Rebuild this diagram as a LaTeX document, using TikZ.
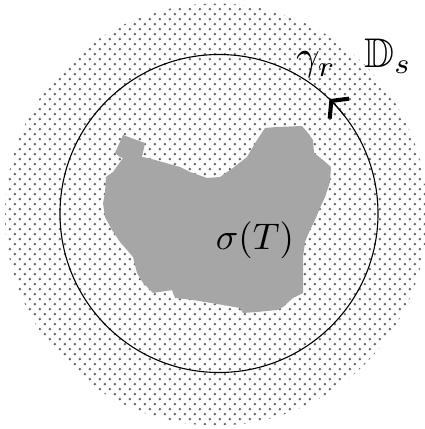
\documentclass[tikz,border=0pt]{standalone}
\usepackage{amssymb}
\usetikzlibrary{patterns.meta,arrows.meta}

% pola titik untuk cakram
\tikzdeclarepattern{
  name=fleck,
  type=uncolored,
  bottom left={(-0.5pt,-0.5pt)},
  top right={(2.2pt,2.2pt)},
  tile size={(2.7pt,2.7pt)},
  code={
    \fill (0pt,0pt) circle (0.38pt);
    \fill (1.35pt,1.35pt) circle (0.38pt);
  }
}

\begin{document}
\begin{tikzpicture}[x=0.27pt,y=0.27pt]
  \useasboundingbox (0,0) rectangle (425,429);

  % jari-jari
  \def\R{211}
  \def\r{159}
  \coordinate (O) at (216,214.5);
  \coordinate (C) at (219,215.5);

  % cakram bertitik
  \fill[pattern=fleck,pattern color=black!60] (O) circle (\R);

  % spektrum
  \fill[black!35] (115,276) -- (123,294) -- (145,286) -- (142,272) -- (148,271)
    -- (180,262) -- (190,257) -- (207,251) -- (220,252) -- (233,261)
    -- (247,272) -- (257,289) -- (265,301) -- (277,302) -- (302,303)
    -- (308,296) -- (313,289) -- (314,276) -- (323,269) -- (331,262)
    -- (330,247) -- (325,232) -- (320,221) -- (315,209) -- (310,199)
    -- (305,187) -- (303,172) -- (303,152) -- (303,136) -- (293,131)
    -- (283,122) -- (277,119) -- (257,117) -- (243,116) -- (240,121)
    -- (223,124) -- (193,129) -- (175,131) -- (172,139) -- (153,136)
    -- (143,146) -- (137,156) -- (133,172) -- (127,179) -- (120,187)
    -- (112,199) -- (105,212) -- (103,226) -- (105,236) -- (106,252)
    -- (113,257) -- (123,271) -- (120,272) -- cycle;

  % lintasan gamma
  \draw[line width=0.3pt] (C) circle (\r);
  \draw[line width=0.3pt,-{Straight Barb[length=3pt,width=7.5pt,line width=1.1pt]}]
    ([shift={(C)}]38:\r) arc[start angle=38,end angle=46,radius=\r];

  % label
  \node[inner sep=0pt] (sigT) at (255,189) {$\sigma(T)$};
  \node[inner sep=0pt,scale=1.12] (gam) at (316,364) {$\gamma_r$};
  \node[inner sep=0pt,scale=1.12] (Ds) at (388,373) {$\mathbb{D}_s$};
\end{tikzpicture}
\end{document}
